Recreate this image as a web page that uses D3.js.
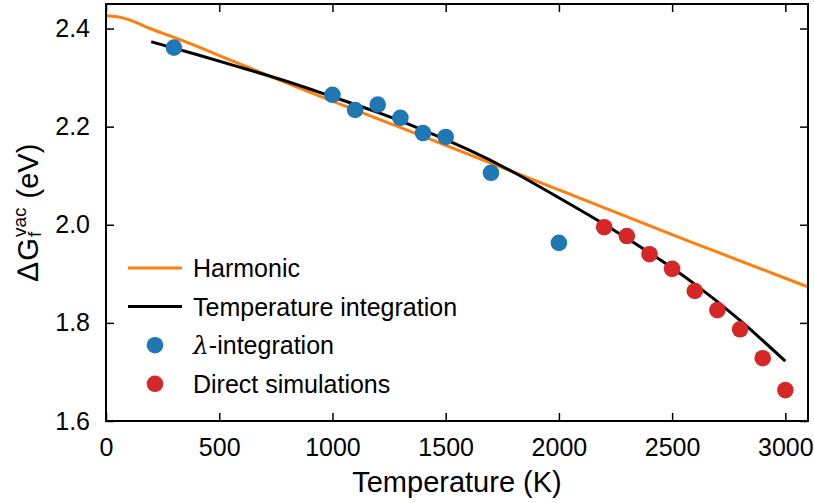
<!DOCTYPE html>
<html>
<head>
<meta charset="utf-8">
<script src="https://cdn.jsdelivr.net/npm/d3@7"></script>
<style>
  body { margin: 0; background: #fff; }
  svg { display: block; font-family: "Liberation Sans", Arial, sans-serif; }
</style>
</head>
<body>
<svg></svg>
<script>
let width = 814;
let height = 503;
let margin = { top: 4, right: 6, bottom: 82, left: 106 };

// harmonic curve
let harmonicT = [0, 50, 100, 150, 200, 300, 400, 500, 750, 1000, 1500, 2000, 2500, 3000, 3100];
let harmonicG = [2.426, 2.424, 2.418, 2.409, 2.399, 2.382, 2.364, 2.345, 2.298, 2.252, 2.162, 2.071, 1.980, 1.891, 1.873];

// temperature integration curve
let tiT = [200, 400, 600, 800, 1000, 1200, 1400, 1600, 1800, 2000, 2200, 2400, 2600, 2800, 3000];
let tiG = [2.373, 2.347, 2.320, 2.292, 2.261, 2.229, 2.193, 2.153, 2.107, 2.055, 2.001, 1.943, 1.879, 1.805, 1.722];

// lambda-integration points
let lambdaT = [300, 1000, 1100, 1200, 1300, 1400, 1500, 1700, 2000];
let lambdaG = [2.361, 2.265, 2.234, 2.245, 2.218, 2.187, 2.179, 2.106, 1.963];

// direct simulations
let directT = [2200, 2300, 2400, 2500, 2600, 2700, 2800, 2900, 3000];
let directG = [1.995, 1.977, 1.940, 1.910, 1.865, 1.826, 1.787, 1.728, 1.663];

let xTicks = [0, 500, 1000, 1500, 2000, 2500, 3000];
let yTicks = [1.6, 1.8, 2.0, 2.2, 2.4];

let svg = d3.select('svg')
    .attr('width', width)
    .attr('height', height);

let x = d3.scaleLinear().domain([0, 3100]).range([margin.left, width - margin.right]);
let y = d3.scaleLinear().domain([1.6, 2.45]).range([height - margin.bottom, margin.top]);

let plot = svg.append('g');

plot.append('clipPath').attr('id', 'clip')
    .append('rect')
    .attr('x', margin.left).attr('y', margin.top)
    .attr('width', width - margin.left - margin.right)
    .attr('height', height - margin.top - margin.bottom);

let line = d3.line().x(d => x(d[0])).y(d => y(d[1])).curve(d3.curveNatural);

plot.append('path')
    .datum(harmonicT.map((t, i) => [t, harmonicG[i]]))
    .attr('clip-path', 'url(#clip)')
    .attr('fill', 'none')
    .attr('stroke', '#ff7f0e')
    .attr('stroke-width', 3)
    .attr('d', line);

plot.append('path')
    .datum(tiT.map((t, i) => [t, tiG[i]]))
    .attr('fill', 'none')
    .attr('stroke', '#000')
    .attr('stroke-width', 3)
    .attr('d', line);

plot.selectAll('circle.lambda')
    .data(lambdaT.map((t, i) => [t, lambdaG[i]]))
    .enter()
    .append('circle')
    .classed('lambda', true)
    .attr('cx', d => x(d[0]))
    .attr('cy', d => y(d[1]))
    .attr('r', 8.3)
    .attr('fill', '#1f77b4');

plot.selectAll('circle.direct')
    .data(directT.map((t, i) => [t, directG[i]]))
    .enter()
    .append('circle')
    .classed('direct', true)
    .attr('cx', d => x(d[0]))
    .attr('cy', d => y(d[1]))
    .attr('r', 8.3)
    .attr('fill', '#d62728');

// axes, ticks pointing inward on all four sides
let xLeft = margin.left, xRight = width - margin.right;
let yBottom = height - margin.bottom, yTop = margin.top;

let axBottom = svg.append('g')
    .attr('transform', `translate(0,${yBottom})`)
    .call(d3.axisBottom(x).tickValues(xTicks).tickSize(-8).tickSizeOuter(0).tickPadding(17).tickFormat(d3.format('d')));
let axLeft = svg.append('g')
    .attr('transform', `translate(${xLeft},0)`)
    .call(d3.axisLeft(y).tickValues(yTicks).tickSize(-8).tickSizeOuter(0).tickPadding(16).tickFormat(d3.format('.1f')));
let axTop = svg.append('g')
    .attr('transform', `translate(0,${yTop})`)
    .call(d3.axisTop(x).tickValues(xTicks).tickSize(-8).tickSizeOuter(0).tickFormat(''));
let axRight = svg.append('g')
    .attr('transform', `translate(${xRight},0)`)
    .call(d3.axisRight(y).tickValues(yTicks).tickSize(-8).tickSizeOuter(0).tickFormat(''));

[axBottom, axLeft, axTop, axRight].forEach(g => {
    g.select('.domain').remove();
    g.selectAll('line').attr('stroke', '#000').attr('stroke-width', 1.5);
    g.selectAll('text').attr('font-size', 25).attr('fill', '#000')
        .attr('font-family', '"Liberation Sans", Arial, sans-serif');
});

svg.append('rect')
    .attr('x', xLeft).attr('y', yTop)
    .attr('width', xRight - xLeft).attr('height', yBottom - yTop)
    .attr('fill', 'none')
    .attr('stroke', '#000')
    .attr('stroke-width', 2);

// axis labels
svg.append('text')
    .attr('x', (xLeft + xRight) / 2)
    .attr('y', 492)
    .attr('text-anchor', 'middle')
    .attr('font-size', 29)
    .text('Temperature (K)');

let ylab = svg.append('g').attr('transform', 'translate(38,281) rotate(-90)');
let delta = ylab.append('text').attr('x', 0).attr('y', 0).attr('font-size', 30).text('\u2206');
let wd = delta.node().getComputedTextLength();
let gLetter = ylab.append('text').attr('x', wd + 2).attr('y', 0).attr('font-size', 29).text('G');
let w1 = wd + 2 + gLetter.node().getComputedTextLength();
let sup = ylab.append('text').attr('x', w1 + 1).attr('y', -12).attr('font-size', 19).text('vac');
ylab.append('text').attr('x', w1 + 1).attr('y', 3).attr('font-size', 19).text('f');
let w2 = sup.node().getComputedTextLength();
ylab.append('text').attr('x', w1 + w2 + 2).attr('y', 0).attr('font-size', 29).text('\u00a0(eV)');

// legend
let legendItems = [
    { label: 'Harmonic', type: 'line', color: '#ff7f0e' },
    { label: 'Temperature integration', type: 'line', color: '#000' },
    { label: '-integration', type: 'dot', color: '#1f77b4', lambda: true },
    { label: 'Direct simulations', type: 'dot', color: '#d62728' }
];

let legend = svg.append('g');
let rows = legend.selectAll('g.row')
    .data(legendItems)
    .enter()
    .append('g')
    .classed('row', true)
    .attr('transform', (d, i) => `translate(128,${268 + i * 38.6})`);

rows.filter(d => d.type === 'line')
    .append('line')
    .attr('x1', 0).attr('x2', 54)
    .attr('stroke', d => d.color)
    .attr('stroke-width', 3);

rows.filter(d => d.type === 'dot')
    .append('circle')
    .attr('cx', 27).attr('r', 8.3)
    .attr('fill', d => d.color);

rows.append('text')
    .attr('x', 65)
    .attr('y', 9)
    .attr('font-size', 25)
    .each(function (d) {
        let t = d3.select(this);
        if (d.lambda) {
            t.append('tspan').attr('font-style', 'italic').attr('font-family', '"DejaVu Serif", serif').text('\u03bb');
        }
        t.append('tspan').text(d.label);
    });
</script>
</body>
</html>
